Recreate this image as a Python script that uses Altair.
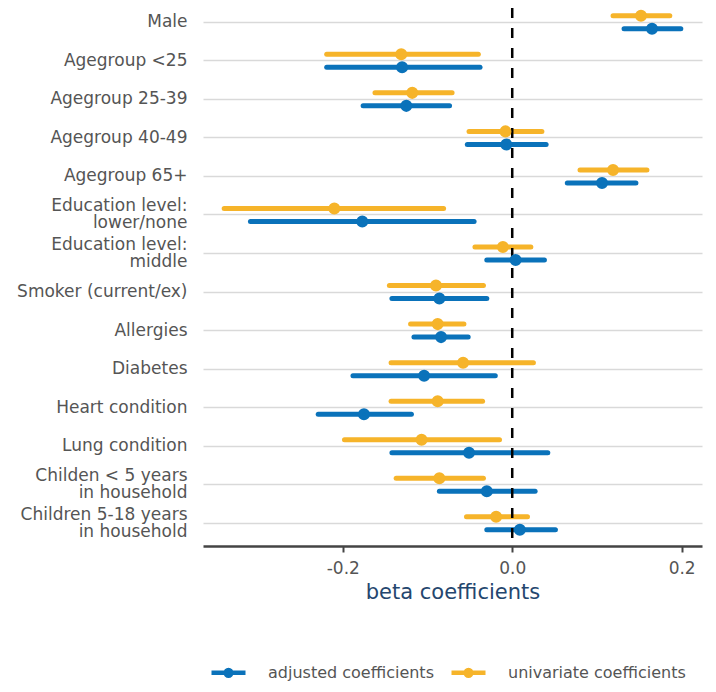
import altair as alt
import pandas as pd

categories = [
    "Male", "Agegroup <25", "Agegroup 25-39", "Agegroup 40-49", "Agegroup 65+",
    "Education level:|lower/none", "Education level:|middle", "Smoker (current/ex)",
    "Allergies", "Diabetes", "Heart condition", "Lung condition",
    "Childen < 5 years|in household", "Children 5-18 years|in household",
]
adj_est = [0.165, -0.130, -0.125, -0.007, 0.106, -0.177, 0.004, -0.086, -0.084, -0.104, -0.175, -0.051, -0.030, 0.009]
adj_lo = [0.132, -0.219, -0.176, -0.053, 0.065, -0.309, -0.030, -0.142, -0.116, -0.188, -0.229, -0.142, -0.086, -0.030]
adj_hi = [0.199, -0.038, -0.074, 0.040, 0.146, -0.045, 0.038, -0.030, -0.052, -0.020, -0.119, 0.042, 0.027, 0.051]
uni_est = [0.152, -0.131, -0.118, -0.008, 0.119, -0.210, -0.011, -0.090, -0.088, -0.058, -0.088, -0.107, -0.086, -0.019]
uni_lo = [0.119, -0.219, -0.162, -0.051, 0.080, -0.340, -0.044, -0.145, -0.120, -0.143, -0.143, -0.198, -0.137, -0.054]
uni_hi = [0.186, -0.040, -0.071, 0.035, 0.159, -0.081, 0.022, -0.034, -0.057, 0.025, -0.035, -0.015, -0.034, 0.018]

series_names = ["adjusted coefficients", "univariate coefficients"]
series_colors = ["#0a72ba", "#f6b42a"]
x_ticks = [-0.2, 0.0, 0.2]

rows = []
for i, c in enumerate(categories):
    rows.append({"cat": c, "series": series_names[0], "est": adj_est[i], "lo": adj_lo[i], "hi": adj_hi[i]})
    rows.append({"cat": c, "series": series_names[1], "est": uni_est[i], "lo": uni_lo[i], "hi": uni_hi[i]})
df = pd.DataFrame(rows)
zero_df = pd.DataFrame({"x": [0.0]})

FONT = "DejaVu Sans"

xscale = alt.Scale(domain=[-0.365, 0.224], nice=False, zero=False)
yscale = alt.Scale(domain=categories, range=[-5.0, 534.6], paddingInner=0, paddingOuter=0)
cscale = alt.Scale(domain=series_names, range=series_colors)

x_axis = alt.Axis(
    values=x_ticks, grid=False, title="beta coefficients",
    labelExpr="replace(format(datum.value, '.1f'), '\u2212', '-')",
    domainColor="#444444", domainWidth=2.5, tickColor="#444444", tickWidth=2, tickSize=6,
    labelFontSize=17, labelColor="#555555", labelPadding=8, labelFont=FONT,
    titleFontSize=21, titleColor="#24466e", titleFontWeight="normal", titlePadding=5, titleFont=FONT,
)
y_axis = alt.Axis(
    title=None, domain=False, ticks=False, grid=True, gridColor="#d9d9d9", gridWidth=1.5,
    labelExpr="split(datum.label, '|')", labelFontSize=17, labelLineHeight=17,
    labelOffset={"condition": {"test": "indexof(datum.label, '|') >= 0", "value": -8.5}, "value": 0},
    labelColor="#555555", labelPadding=16, labelFont=FONT,
)

legend = alt.Legend(
    title=None, orient="none", legendX=6, legendY=645, direction="horizontal",
    symbolType="M-1,0L1,0M0.17,0A0.17,0.17,0,1,1,-0.17,0A0.17,0.17,0,1,1,0.17,0Z",
    symbolSize=1156, symbolStrokeWidth=4.5, labelFontSize=16, labelColor="#555555",
    labelFont=FONT, labelOffset=20, labelLimit=400, columnPadding=8, padding=0,
)

def layer_for(name, offset):
    sub = alt.Chart(df).transform_filter(alt.datum.series == name)
    rule = sub.mark_rule(strokeWidth=5, yOffset=offset, strokeCap="round").encode(
        x=alt.X("lo:Q", scale=xscale, axis=x_axis),
        x2="hi:Q",
        y=alt.Y("cat:N", scale=yscale, axis=y_axis, sort=categories),
        stroke=alt.Stroke("series:N", scale=cscale, legend=legend),
    )
    pts = sub.mark_point(filled=True, size=57, strokeWidth=4.5, opacity=1, yOffset=offset).encode(
        x=alt.X("est:Q", scale=xscale, axis=x_axis),
        y=alt.Y("cat:N", scale=yscale, axis=y_axis, sort=categories),
        fill=alt.Fill("series:N", scale=cscale, legend=legend),
        stroke=alt.Stroke("series:N", scale=cscale, legend=legend),
    )
    return rule, pts

adj_rule, adj_pts = layer_for(series_names[0], 6.5)
uni_rule, uni_pts = layer_for(series_names[1], -6.5)

zero_line = alt.Chart(zero_df).mark_rule(color="black", strokeWidth=2.5, strokeDash=[10, 10]).encode(
    x=alt.X("x:Q", scale=xscale, axis=x_axis)
)

chart = alt.layer(adj_rule, uni_rule, zero_line, adj_pts, uni_pts).properties(
    width=499, height=538,
    autosize=alt.AutoSizeParams(type="none"),
    padding={"left": 195, "top": 0, "right": 6, "bottom": 138},
).configure(font=FONT).configure_view(strokeWidth=0)

chart.save("out.html", embed_options={"renderer": "svg", "actions": False})
